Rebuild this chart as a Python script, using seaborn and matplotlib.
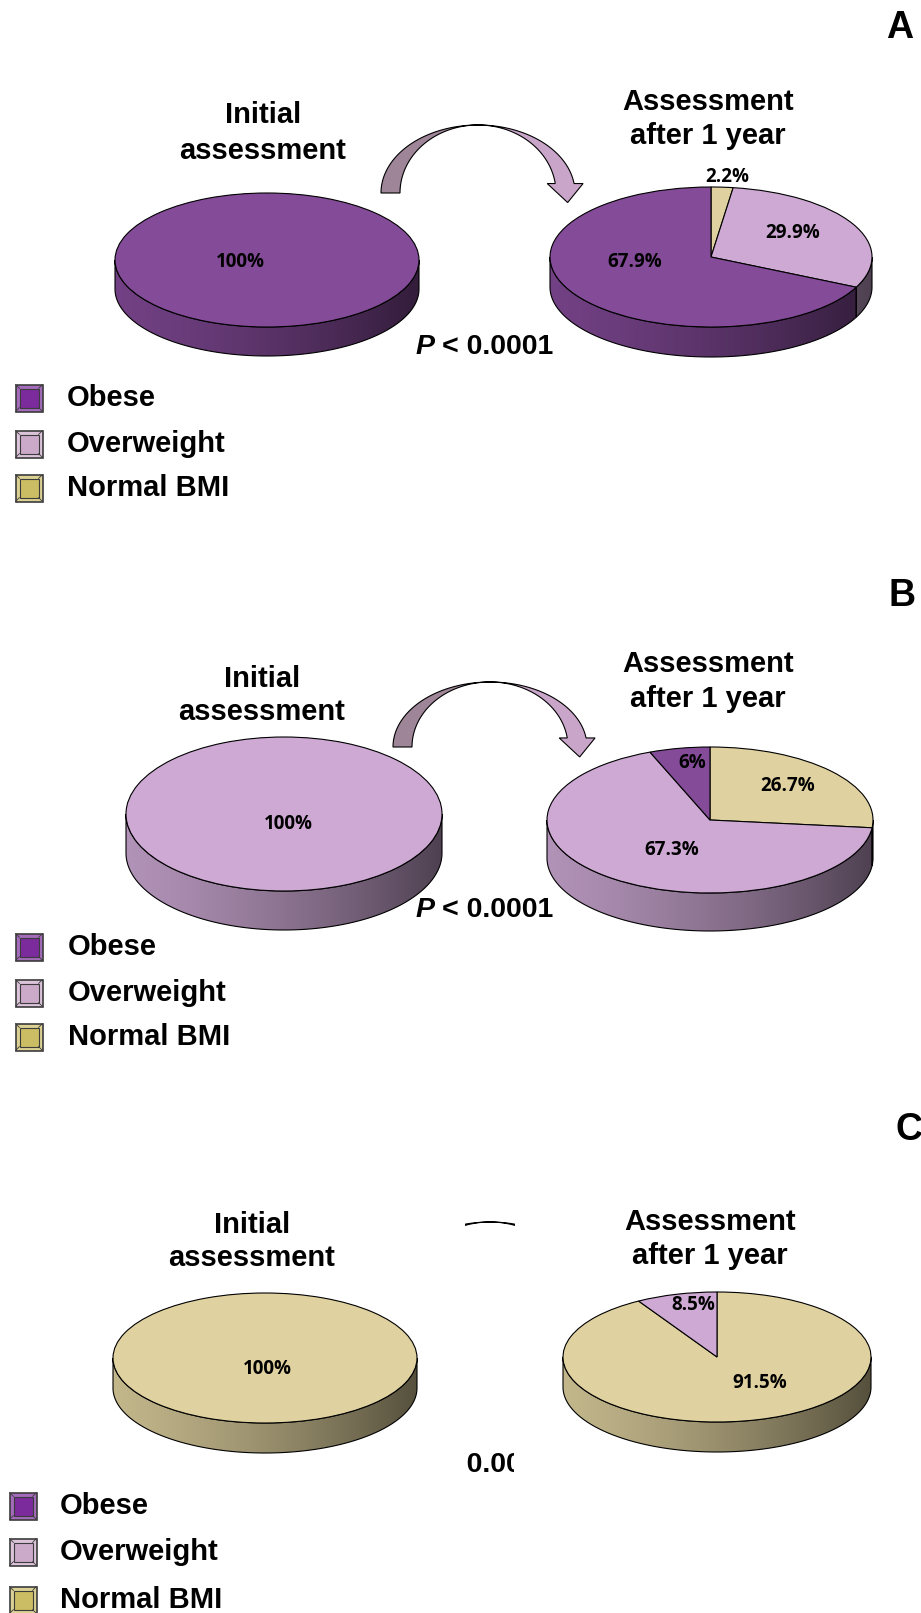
import numpy as np
import matplotlib
matplotlib.use("Agg")
import matplotlib.pyplot as plt
import matplotlib.colors as mcolors
import seaborn as sns
from matplotlib.patches import Polygon, Rectangle
from matplotlib.transforms import Bbox, TransformedBbox

# ---- data -----------------------------------------------------------------
categories = ["Obese", "Overweight", "Normal BMI"]
panel_letters = ["A", "B", "C"]

initial_A = [100, 0, 0]
after_A = [67.9, 29.9, 2.2]
initial_B = [0, 100, 0]
after_B = [6, 67.3, 26.7]
initial_C = [0, 0, 100]
after_C = [0, 8.5, 91.5]

p_value_text = "< 0.0001"
title_initial = ["Initial", "assessment"]
title_after = ["Assessment", "after 1 year"]

# ---- style ----------------------------------------------------------------
top_colors = sns.color_palette(["#844b99", "#cda9d4", "#e0d2a0"])
legend_colors = sns.color_palette(["#7b2b9b", "#cba9c9", "#cbbd63"])

W, H = 921, 1613
sns.set_theme(style="white")
plt.rcParams["font.family"] = ["Liberation Sans", "DejaVu Sans"]
plt.rcParams["text.color"] = "black"
LABEL_FONT = ["Open Sans", "DejaVu Sans"]
TITLE_SIZE = 21

fig = plt.figure(figsize=(W / 100, H / 100), dpi=100)
ov = fig.add_axes([0, 0, 1, 1])
ov.set_xlim(0, W)
ov.set_ylim(H, 0)
ov.axis("off")

# side-wall shading across the width of a disc
grad_x = np.linspace(-1, 1, 400)
shade = 0.68 - 0.245 * grad_x - 0.055 * grad_x ** 2


def draw_pie(cx, cy, a, b, depth, values, label_pos):
    """Tilted disc: pie top squashed into an ellipse plus a shaded side wall."""
    pad = 3
    d = depth / b
    ax = fig.add_axes([(cx - a - pad) / W,
                       (H - (cy + b + depth + pad)) / H,
                       (2 * a + 2 * pad) / W,
                       (2 * b + depth + 2 * pad) / H])
    # slices clockwise from 12 o'clock: Normal BMI, Overweight, Obese
    order = [2, 1, 0]
    cats = [i for i in order if values[i] > 0]
    vals = [values[i] for i in cats]
    wedges, _ = ax.pie(vals, colors=[top_colors[i] for i in cats],
                       startangle=90, counterclock=False, radius=1,
                       wedgeprops=dict(edgecolor="black", linewidth=0.8, zorder=3))
    for w, ci in zip(wedges, cats):
        for k in (-360, 0, 360):
            lo = max(w.theta1, 180 + k)
            hi = min(w.theta2, 360 + k)
            if hi - lo <= 1e-6:
                continue
            t = np.radians(np.linspace(lo, hi, 200))
            top = np.column_stack([np.cos(t), np.sin(t)])
            bot = np.column_stack([np.cos(t[::-1]), np.sin(t[::-1]) - d])
            poly = Polygon(np.vstack([top, bot]), closed=True, facecolor="none",
                           edgecolor="black", linewidth=0.8, zorder=2)
            ax.add_patch(poly)
            rgb = np.array(mcolors.to_rgb(top_colors[ci]))
            img = np.clip(shade[None, :, None] * rgb[None, None, :], 0, 1)
            im = ax.imshow(img, extent=(-1, 1, -1 - d, 0), aspect="auto",
                           interpolation="bilinear", zorder=1)
            im.set_clip_path(poly)
    for ci in cats:
        x, y = label_pos[ci]
        ax.text(x, y, f"{values[ci]:g}%", transform=ov.transData,
                ha="center", va="center", fontsize=13.5, fontweight="bold",
                family=LABEL_FONT, zorder=5)
    ax.set_aspect("auto")
    ax.set_xlim(-1 - pad / a, 1 + pad / a)
    ax.set_ylim(-1 - d - pad / b, 1 + pad / b)
    ax.set_axis_off()
    return ax


def curved_arrow(cx, cy, rx_out, rx_in, ry, t_end=8, clip=None):
    tl = np.radians(np.linspace(180, 90, 80))
    outer_l = np.column_stack([cx + rx_out * np.cos(tl), cy - ry * np.sin(tl)])
    inner_l = np.column_stack([cx + rx_in * np.cos(tl), cy - ry * np.sin(tl)])
    tr = np.radians(np.linspace(90, t_end, 80))
    outer_r = np.column_stack([cx + rx_out * np.cos(tr), cy - ry * np.sin(tr)])
    inner_r = np.column_stack([cx + rx_in * np.cos(tr), cy - ry * np.sin(tr)])
    ob, ib = outer_r[-1], inner_r[-1]
    head = np.array([[ob[0] + 9, ob[1]],
                     [(ob[0] + ib[0]) / 2 + 3, (ob[1] + ib[1]) / 2 + 19],
                     [ib[0] - 8, ib[1]]])
    left = Polygon(np.vstack([outer_l, inner_l[::-1]]), closed=True,
                   facecolor="#9e8597", edgecolor="black", linewidth=0.8)
    right = Polygon(np.vstack([outer_r, head, inner_r[::-1]]), closed=True,
                    facecolor="#c9a6c9", edgecolor="black", linewidth=0.8)
    for p in (left, right):
        ov.add_patch(p)
        if clip is not None:
            x0, y0, x1, y1 = clip
            p.set_clip_path(Rectangle((x0, y0), x1 - x0, y1 - y0,
                                      transform=ov.transData))


def titles(x_left, ys_left, x_right, ys_right):
    for s, y in zip(title_initial, ys_left):
        ov.text(x_left, y, s, ha="center", va="center", fontsize=TITLE_SIZE,
                fontweight="bold")
    for s, y in zip(title_after, ys_right):
        ov.text(x_right, y, s, ha="center", va="center", fontsize=TITLE_SIZE,
                fontweight="bold")


def p_value(y, clip=None):
    t1 = ov.text(415, y, "P", ha="left", va="center", fontsize=20.5,
                 fontweight="bold", style="italic")
    t2 = ov.text(442, y, p_value_text, ha="left", va="center", fontsize=20.5,
                 fontweight="bold")
    if clip is not None:
        x0, y0, x1, y1 = clip
        box = TransformedBbox(Bbox.from_extents(x0 / W, 1 - y1 / H, x1 / W, 1 - y0 / H),
                              fig.transFigure)
        for t in (t1, t2):
            t.set_clip_box(box)
            t.set_clip_on(True)


def legend(x_sq, x_txt, ys):
    s = 27
    inset = 4
    for ci, y in enumerate(ys):
        col = np.array(mcolors.to_rgb(legend_colors[ci]))
        frame = col + (1 - col) * 0.3
        x0, y0 = x_sq - s / 2, y - s / 2
        ov.add_patch(Rectangle((x0, y0), s, s, facecolor=frame,
                               edgecolor="#3c3c3c", linewidth=1.2))
        ov.add_patch(Rectangle((x0 + inset, y0 + inset), s - 2 * inset, s - 2 * inset,
                               facecolor=col, edgecolor="#3c3c3c", linewidth=0.8))
        for (xa, ya, xb, yb) in [(x0, y0, x0 + inset, y0 + inset),
                                 (x0 + s, y0, x0 + s - inset, y0 + inset),
                                 (x0, y0 + s, x0 + inset, y0 + s - inset),
                                 (x0 + s, y0 + s, x0 + s - inset, y0 + s - inset)]:
            ov.plot([xa, xb], [ya, yb], color="#3c3c3c", linewidth=0.6)
        ov.text(x_txt, y, categories[ci], ha="left", va="center",
                fontsize=TITLE_SIZE, fontweight="bold")


# ---- panel A --------------------------------------------------------------
ov.text(900, 28, panel_letters[0], ha="center", va="center", fontsize=27, fontweight="bold")
titles(263, (115, 151), 708, (102, 136))
curved_arrow(478, 193, 97, 78, 68)
p_value(347)
legend(29, 67, (398, 444, 488))
draw_pie(267, 260, 152, 67, 29, initial_A, {0: (240, 262)})
draw_pie(711, 257, 161, 70, 30, after_A,
         {0: (635, 262), 1: (793, 233), 2: (727, 177)})

# ---- panel B --------------------------------------------------------------
ov.text(902, 596, panel_letters[1], ha="center", va="center", fontsize=27, fontweight="bold")
titles(262, (679, 712), 708, (664, 699))
curved_arrow(490, 747, 97, 78, 65)
p_value(910)
legend(29, 68, (947, 993, 1037))
draw_pie(284, 814, 158, 77, 39, initial_B, {1: (288, 824)})
draw_pie(710, 820, 163, 73, 38, after_B,
         {0: (692, 763), 1: (672, 850), 2: (788, 786)})

# ---- panel C --------------------------------------------------------------
ov.text(909, 1130, panel_letters[2], ha="center", va="center", fontsize=27, fontweight="bold")
titles(252, (1225, 1258), 710, (1222, 1256))
curved_arrow(490, 1287, 97, 78, 65, clip=(465, 1218, 515, 1231))
p_value(1465, clip=(462, 1440, 514, 1490))
legend(23, 60, (1506, 1552, 1600))
draw_pie(265, 1358, 152, 65, 30, initial_C, {2: (267, 1369)})
draw_pie(717, 1357, 154, 65, 30, after_C,
         {1: (693, 1305), 2: (760, 1383)})

fig.savefig("out.png", dpi=100)
